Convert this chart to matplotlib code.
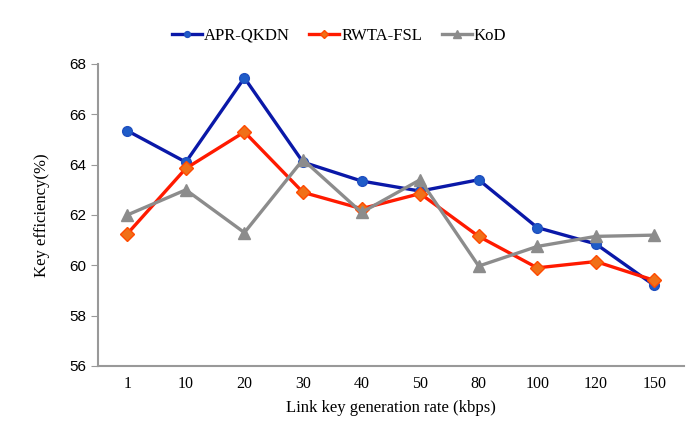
import matplotlib
matplotlib.use("Agg")
import matplotlib.pyplot as plt

rates = ["1", "10", "20", "30", "40", "50", "80", "100", "120", "150"]
apr_qkdn = [65.35, 64.1, 67.45, 64.1, 63.35, 62.95, 63.4, 61.5, 60.85, 59.2]
rwta_fsl = [61.25, 63.85, 65.3, 62.9, 62.25, 62.85, 61.15, 59.9, 60.15, 59.4]
kod = [62.0, 63.0, 61.3, 64.2, 62.1, 63.4, 59.97, 60.75, 61.15, 61.2]

plt.rcParams['font.family'] = ['Liberation Serif', 'DejaVu Serif']

fig = plt.figure(figsize=(6.92, 4.23), dpi=100)
ax = fig.add_axes([0.1416, 0.1348, 0.8464, 0.7139])

x = list(range(len(rates)))
ax.plot(x, apr_qkdn, color='#0a18a8', lw=2.4, marker='o', ms=7,
        mfc='#1f5cc8', mec='#1f4fc0', label='APR-QKDN', zorder=3)
ax.plot(x, rwta_fsl, color='#ff1a00', lw=2.4, marker='D', ms=7,
        mfc='#f07018', mec='#ff4a00', label='RWTA-FSL', zorder=4)
ax.plot(x, kod, color='#8c8c8c', lw=2.4, marker='^', ms=9,
        mfc='#8c8c8c', mec='#8c8c8c', label='KoD', zorder=5)

ax.set_xlim(-0.5, 9.5)
ax.set_ylim(56, 68)
ax.set_yticks(range(56, 69, 2))
ax.set_xticks(x)
ax.set_xticklabels(rates)
ax.tick_params(axis='x', length=0, labelsize=11.5, pad=7)
ax.tick_params(axis='y', length=5, color='#999999', labelsize=11)
for lbl in ax.get_yticklabels():
    lbl.set_family(['Liberation Sans Narrow', 'Liberation Sans', 'DejaVu Sans'])
for s in ['top', 'right']:
    ax.spines[s].set_visible(False)
for s in ['left', 'bottom']:
    ax.spines[s].set_color('#999999')
    ax.spines[s].set_linewidth(1.5)

ax.set_xlabel("Link key generation rate (kbps)", fontsize=12, labelpad=6)
ax.set_ylabel("Key efficiency(%)", fontsize=12, labelpad=14)

fig.legend(loc='upper center', bbox_to_anchor=(0.49, 0.97), ncol=3,
           frameon=False, fontsize=12, handlelength=1.8, handletextpad=0.1,
           columnspacing=1.2, markerscale=0.6)

fig.savefig("out.png", dpi=100)
